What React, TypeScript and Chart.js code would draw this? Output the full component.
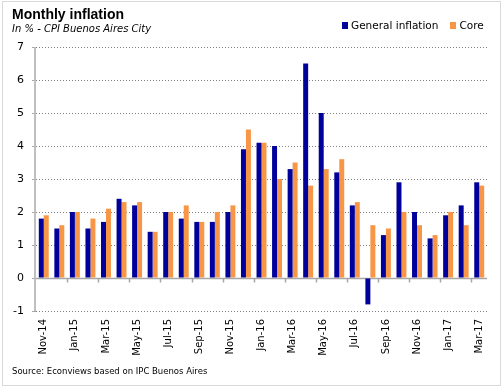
import React, { useEffect, useRef } from 'react';
import { Chart, registerables } from 'chart.js';

Chart.register(...registerables);

const months = [
  'Nov-14', 'Dec-14',
  'Jan-15', 'Feb-15', 'Mar-15', 'Apr-15', 'May-15', 'Jun-15', 'Jul-15', 'Aug-15', 'Sep-15', 'Oct-15', 'Nov-15', 'Dec-15',
  'Jan-16', 'Feb-16', 'Mar-16', 'Apr-16', 'May-16', 'Jun-16', 'Jul-16', 'Aug-16', 'Sep-16', 'Oct-16', 'Nov-16', 'Dec-16',
  'Jan-17', 'Feb-17', 'Mar-17',
];
const generalInflation = [1.8, 1.5, 2.0, 1.5, 1.7, 2.4, 2.2, 1.4, 2.0, 1.8, 1.7, 1.7, 2.0, 3.9, 4.1, 4.0, 3.3, 6.5, 5.0, 3.2, 2.2, -0.8, 1.3, 2.9, 2.0, 1.2, 1.9, 2.2, 2.9];
const coreInflation = [1.9, 1.6, 2.0, 1.8, 2.1, 2.3, 2.3, 1.4, 2.0, 2.2, 1.7, 2.0, 2.2, 4.5, 4.1, 3.0, 3.5, 2.8, 3.3, 3.6, 2.3, 1.6, 1.5, 2.0, 1.6, 1.3, 2.0, 1.6, 2.8];
const yMin = -1;
const yMax = 7;
const yStep = 1;

const BLUE = '#00009a';
const ORANGE = '#f79646';
const FONT = "'DejaVu Sans', sans-serif";

const axisLinesPlugin = {
  id: 'axisLines',
  beforeDatasetsDraw(chart: any) {
    const { ctx, chartArea, scales } = chart;
    const y = Math.round(scales.y.getPixelForValue(0)) + 0.5;
    ctx.save();
    ctx.setLineDash([]);
    ctx.strokeStyle = '#a6a6a6';
    ctx.lineWidth = 1.5;
    ctx.beginPath();
    ctx.moveTo(chartArea.left, y);
    ctx.lineTo(chartArea.right, y);
    const xs = scales.x;
    for (let i = 2; i < months.length; i += 2) {
      const px = Math.round((xs.getPixelForValue(i - 1) + xs.getPixelForValue(i)) / 2) + 0.5;
      ctx.moveTo(px, y);
      ctx.lineTo(px, y + 4);
    }
    ctx.stroke();
    ctx.strokeStyle = '#bfbfbf';
    ctx.lineWidth = 2;
    ctx.beginPath();
    ctx.moveTo(chartArea.left - 1, chartArea.top);
    ctx.lineTo(chartArea.left - 1, chartArea.bottom);
    ctx.stroke();
    ctx.restore();
  },
};

function InflationChart() {
  const ref = useRef<HTMLCanvasElement>(null);
  useEffect(() => {
    if (!ref.current) return;
    const chart = new Chart(ref.current, {
      type: 'bar',
      data: {
        labels: months,
        datasets: [
          { label: 'General inflation', data: generalInflation, backgroundColor: BLUE, categoryPercentage: 0.64, barPercentage: 1 },
          { label: 'Core', data: coreInflation, backgroundColor: ORANGE, categoryPercentage: 0.64, barPercentage: 1 },
        ],
      },
      options: {
        animation: false,
        responsive: false,
        maintainAspectRatio: false,
        layout: { padding: { left: 0, right: 16, top: 47, bottom: 0 } },
        plugins: { legend: { display: false }, tooltip: { enabled: false }, title: { display: false } },
        scales: {
          x: {
            grid: { display: false, drawTicks: false },
            border: { display: false },
            ticks: {
              autoSkip: false,
              maxRotation: 90,
              minRotation: 90,
              padding: 8,
              color: '#000',
              font: { family: FONT, size: 10 },
              callback: (_v: any, i: number) => (i % 2 === 0 ? months[i] : ''),
            },
            afterFit: (s: any) => { s.height = 75; },
          },
          y: {
            min: yMin,
            max: yMax,
            ticks: { stepSize: yStep, color: '#000', padding: 8, font: { family: FONT, size: 11 } },
            grid: {
              color: (c: any) => (c.tick && c.tick.value === 0 ? 'rgba(0,0,0,0)' : '#7f7f7f'),
              tickColor: '#a6a6a6',
              tickLength: 4,
              tickBorderDash: [],
              lineWidth: 1,
            },
            border: { display: false, dash: [1, 2] },
            afterFit: (s: any) => { s.width = 36; },
          },
        },
      },
      plugins: [axisLinesPlugin],
    });
    return () => chart.destroy();
  }, []);
  return <canvas ref={ref} width={503} height={386} style={{ position: 'absolute', left: 0, top: 0 }} />;
}

export default function App() {
  return (
    <div style={{ position: 'absolute', left: 0, top: 0, width: 503, height: 386, background: '#fff', overflow: 'hidden' }}>
      <div style={{ position: 'absolute', left: 2, top: 1, width: 497, height: 383, border: '1px solid #d9d9d9' }} />
      <InflationChart />
      <div style={{ position: 'absolute', left: 12, top: 6, fontFamily: "'Liberation Sans', Arial, sans-serif", fontWeight: 'bold', fontSize: 14, color: '#000', whiteSpace: 'nowrap' }}>
        Monthly inflation
      </div>
      <div style={{ position: 'absolute', left: 12, top: 23, fontFamily: FONT, fontStyle: 'italic', fontSize: 10, color: '#000', whiteSpace: 'nowrap' }}>
        In % - CPI Buenos Aires City
      </div>
      <div style={{ position: 'absolute', left: 342, top: 19, display: 'flex', alignItems: 'center', fontFamily: FONT, fontSize: 10.5, color: '#000', whiteSpace: 'nowrap' }}>
        <span style={{ display: 'inline-block', width: 6, height: 7, background: BLUE, marginRight: 3 }} />
        <span>General inflation</span>
        <span style={{ display: 'inline-block', width: 6, height: 7, background: ORANGE, marginLeft: 12, marginRight: 3 }} />
        <span>Core</span>
      </div>
      <div style={{ position: 'absolute', left: 12, top: 366, fontFamily: FONT, fontSize: 8.5, color: '#000', whiteSpace: 'nowrap' }}>
        Source: Econviews based on IPC Buenos Aires
      </div>
    </div>
  );
}
